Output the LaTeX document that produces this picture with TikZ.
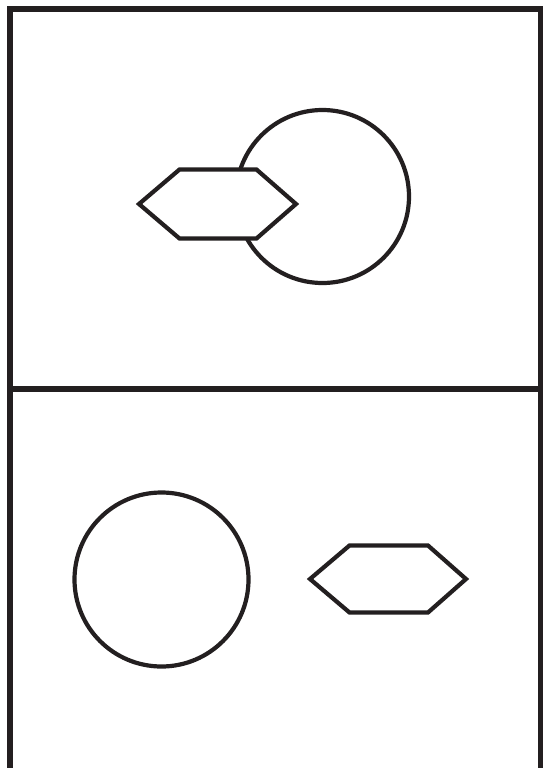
\documentclass[tikz,border=0pt]{standalone}
\definecolor{ink}{RGB}{35,31,32}
\tikzset{
  frameline/.style={draw=ink, line width=5.5pt, line cap=butt, line join=miter},
  shapeline/.style={draw=ink, line width=4.2pt, line join=miter, fill=white}
}
\begin{document}
\begin{tikzpicture}[x=1pt,y=-1pt]
\useasboundingbox (0,0) rectangle (548,768);
\fill[white] (0,0) rectangle (548,768);
\begin{scope}
\clip (0,0) rectangle (548,768);
% outer frame (bottom edge runs off the page)
\draw[frameline] (9.8,780) -- (9.8,9) -- (540.5,9) -- (540.5,780);
% divider
\draw[frameline] (9.8,389) -- (540.5,389);
\end{scope}
% top panel: circle behind hexagon
\draw[shapeline] (322.5,196.5) circle (86.5);
\draw[shapeline] (139,204) -- (179.5,169.5) -- (256.5,169.5) -- (296,204) -- (256.5,238.5) -- (179.5,238.5) -- cycle;
% bottom panel
\draw[shapeline] (161.5,579.5) circle (87);
\draw[shapeline] (310,579) -- (349.5,545.5) -- (428,545.5) -- (466,579) -- (428,612.5) -- (349.5,612.5) -- cycle;
\end{tikzpicture}
\end{document}
